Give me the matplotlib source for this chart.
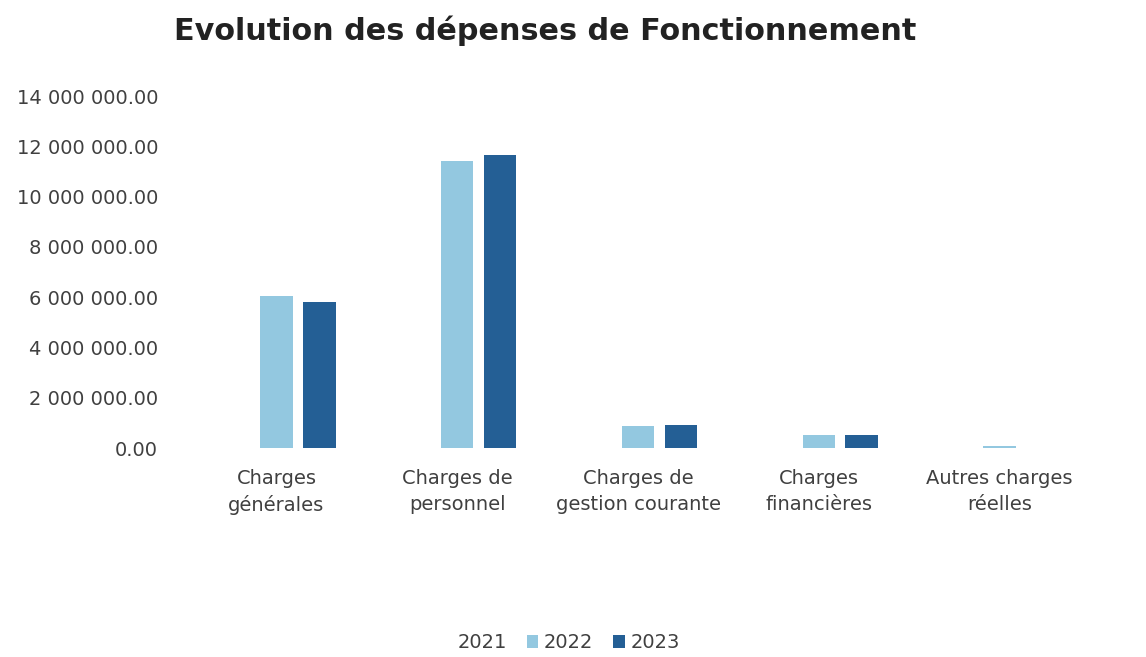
import matplotlib
matplotlib.use("Agg")
import matplotlib.pyplot as plt
import numpy as np
from matplotlib.ticker import FuncFormatter, MultipleLocator

categories = ["Charges\ngénérales", "Charges de\npersonnel", "Charges de\ngestion courante",
              "Charges\nfinancières", "Autres charges\nréelles"]
series_names = ["2021", "2022", "2023"]
values_2021 = [0, 0, 0, 0, 0]
values_2022 = [6040000, 11420000, 870000, 520000, 60000]
values_2023 = [5800000, 11650000, 930000, 520000, 0]

colors = ["#ffffff", "#93c8e0", "#245f95"]
txt_color = "#404040"

plt.rcParams['font.family'] = ['DejaVu Sans']

fig = plt.figure(figsize=(11.46, 6.57), dpi=100)
ax = fig.add_axes([186/1146, 1 - 448/657, (1090-186)/1146, (448-96)/657])

x = np.arange(len(categories))
w = 0.18
off = 0.237
for i, (name, vals) in enumerate(zip(series_names, [values_2021, values_2022, values_2023])):
    ax.bar(x + (i - 1) * off, vals, width=w, color=colors[i], label=name, zorder=2)

ax.set_xlim(-0.5, len(categories) - 0.5)
ax.set_ylim(0, 14000000)
ax.yaxis.set_major_locator(MultipleLocator(2000000))
ax.yaxis.set_major_formatter(FuncFormatter(lambda v, p: f"{v:,.2f}".replace(",", " ")))
ax.set_xticks(x)
ax.set_xticklabels(categories, fontsize=14, color=txt_color, linespacing=1.45)
for t in ax.get_yticklabels():
    t.set_fontsize(14)
    t.set_color(txt_color)
ax.tick_params(axis='both', length=0)
ax.tick_params(axis='x', pad=15)
ax.tick_params(axis='y', pad=20)
for s in ax.spines.values():
    s.set_visible(False)

fig.text(545/1146, 1 - 31/657, "Evolution des dépenses de Fonctionnement", ha="center", va="center",
         fontsize=21.8, fontweight="bold", color="#222222")

leg = fig.legend(loc="center", bbox_to_anchor=(560/1146, 1 - 643/657), ncol=3, frameon=False,
                 fontsize=14, handlelength=0.6, handleheight=0.6, handletextpad=0.3, columnspacing=1.0)
for t in leg.get_texts():
    t.set_color(txt_color)

fig.savefig("out.png", dpi=100, facecolor="white")
